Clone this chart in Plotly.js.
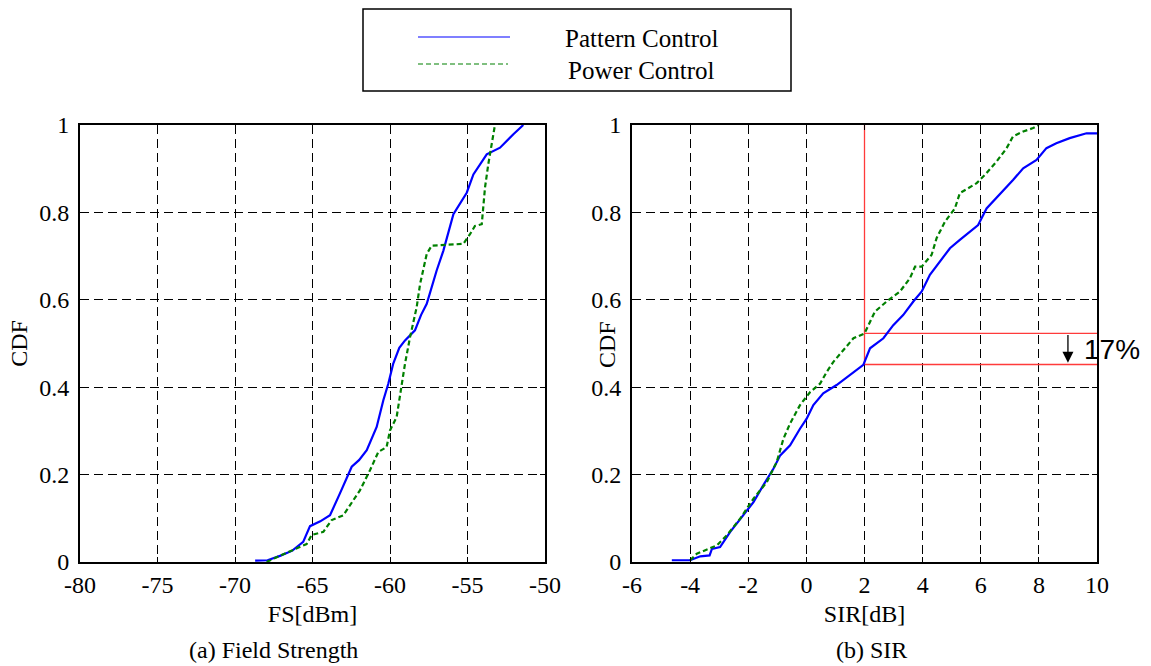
<!DOCTYPE html>
<html>
<head>
<meta charset="utf-8">
<script src="https://cdn.plot.ly/plotly-3.0.1.min.js"></script>
<style>html,body{margin:0;padding:0;background:#fff;}#chart{width:1151px;height:666px;}</style>
</head>
<body>
<div id="chart"></div>
<script>
// ---------- DATA ----------
const seriesNames = ["Pattern Control", "Power Control"];

// (a) Field Strength CDF
const fsPatternX = [-68.7, -67.9, -67.1, -66.3, -65.6, -65.16, -64.5, -63.87, -63.23, -62.47, -62.0, -61.5, -60.86, -60.43, -60.11, -59.79, -59.4, -59.03, -58.39, -58.0, -57.63, -56.99, -56.56, -55.91, -55.05, -54.62, -53.76, -52.9, -52.04, -51.4];
const fsPatternY = [0.003, 0.004, 0.014, 0.026, 0.046, 0.082, 0.093, 0.107, 0.157, 0.218, 0.233, 0.256, 0.309, 0.370, 0.408, 0.454, 0.490, 0.507, 0.530, 0.565, 0.591, 0.667, 0.712, 0.796, 0.845, 0.887, 0.933, 0.948, 0.979, 1.0];
const fsPowerX = [-67.96, -66.88, -65.38, -65.05, -64.3, -63.76, -63.01, -61.94, -61.29, -60.75, -60.22, -60.0, -59.57, -59.25, -59.03, -58.71, -58.28, -58.06, -57.63, -57.31, -55.27, -54.84, -54.52, -54.08, -53.87, -53.66, -53.44, -53.23];
const fsPowerY = [0.0, 0.018, 0.041, 0.062, 0.069, 0.096, 0.107, 0.164, 0.210, 0.252, 0.263, 0.301, 0.332, 0.408, 0.454, 0.514, 0.583, 0.636, 0.705, 0.724, 0.728, 0.750, 0.769, 0.773, 0.857, 0.910, 0.956, 1.0];

// (b) SIR CDF
const sirPatternX = [-4.63, -4.0, -3.65, -3.33, -3.25, -2.97, -2.62, -2.16, -1.82, -1.48, -1.13, -0.9, -0.56, -0.22, 0.01, 0.24, 0.58, 1.04, 1.5, 1.96, 2.19, 2.65, 2.99, 3.33, 3.68, 3.97, 4.25, 4.59, 4.94, 5.28, 5.63, 5.91, 6.2, 6.43, 6.71, 7.11, 7.46, 7.92, 8.26, 8.6, 9.06, 9.64, 10.0];
const sirPatternY = [0.004, 0.004, 0.013, 0.015, 0.030, 0.034, 0.069, 0.107, 0.137, 0.176, 0.214, 0.244, 0.267, 0.305, 0.328, 0.359, 0.386, 0.405, 0.428, 0.451, 0.489, 0.512, 0.542, 0.565, 0.596, 0.619, 0.657, 0.687, 0.718, 0.737, 0.756, 0.771, 0.809, 0.825, 0.844, 0.874, 0.901, 0.920, 0.947, 0.958, 0.970, 0.981, 0.981];
const sirPowerX = [-4.0, -3.77, -3.08, -2.74, -2.28, -1.82, -1.36, -1.02, -0.79, -0.56, -0.22, 0.13, 0.47, 0.7, 0.93, 1.22, 1.62, 2.0, 2.36, 2.76, 3.22, 3.56, 3.74, 3.97, 4.31, 4.48, 4.77, 5.11, 5.28, 5.86, 6.2, 6.54, 6.89, 7.11, 7.46, 7.8, 8.0];
const sirPowerY = [0.004, 0.019, 0.038, 0.061, 0.099, 0.145, 0.183, 0.229, 0.282, 0.317, 0.359, 0.389, 0.408, 0.435, 0.458, 0.481, 0.512, 0.523, 0.573, 0.596, 0.619, 0.649, 0.676, 0.676, 0.703, 0.741, 0.779, 0.809, 0.844, 0.867, 0.890, 0.916, 0.947, 0.974, 0.985, 0.993, 1.0];

// reference marks on (b): SIR = 2 dB, CDF levels of both curves, 17 % gap
const refSIR = 2;
const refLevels = [0.523, 0.452];
const refLabel = "17%";
const refArrowX = 9;

// ticks
const fsTickVals = [-80, -75, -70, -65, -60, -55, -50];
const fsTickText = ["-80", "-75", "-70", "-65", "-60", "-55", "-50"];
const sirTickVals = [-6, -4, -2, 0, 2, 4, 6, 8, 10];
const sirTickText = ["-6", "-4", "-2", "0", "2", "4", "6", "8", "10"];
const cdfTickVals = [0, 0.2, 0.4, 0.6, 0.8, 1];
const cdfTickText = ["0", "0.2", "0.4", "0.6", "0.8", "1"];

const fsTitle = "FS[dBm]";
const sirTitle = "SIR[dB]";
const cdfTitle = "CDF";
const captions = ["(a) Field Strength", "(b) SIR"];

// ---------- STYLE ----------
const W = 1151, H = 666;
const M = {l: 80, r: 54, t: 125, b: 104};
const PW = W - M.l - M.r, PH = H - M.t - M.b;
const px = x => (x - M.l) / PW;
const py = y => (H - M.b - y) / PH;
const SERIF = "Liberation Serif, Times New Roman, serif";
const SANS = "Liberation Sans, Arial, sans-serif";
const blue = "#0000ff", green = "#008000", red = "#ff3b3b";

const traces = [
  {x: fsPatternX, y: fsPatternY, xaxis: "x", yaxis: "y", mode: "lines", name: seriesNames[0],
   line: {color: blue, width: 2.2}, showlegend: false},
  {x: fsPowerX, y: fsPowerY, xaxis: "x", yaxis: "y", mode: "lines", name: seriesNames[1],
   line: {color: green, width: 2.2, dash: "5px,3px"}, showlegend: false},
  {x: [refSIR, refSIR], y: [refLevels[1], 1], xaxis: "x2", yaxis: "y2", mode: "lines",
   line: {color: red, width: 1.3}, showlegend: false, hoverinfo: "skip"},
  {x: [refSIR, 10], y: [refLevels[0], refLevels[0]], xaxis: "x2", yaxis: "y2", mode: "lines",
   line: {color: red, width: 1.3}, showlegend: false, hoverinfo: "skip"},
  {x: [refSIR, 10], y: [refLevels[1], refLevels[1]], xaxis: "x2", yaxis: "y2", mode: "lines",
   line: {color: red, width: 1.3}, showlegend: false, hoverinfo: "skip"},
  {x: sirPatternX, y: sirPatternY, xaxis: "x2", yaxis: "y2", mode: "lines", name: seriesNames[0],
   line: {color: blue, width: 2.2}, showlegend: false},
  {x: sirPowerX, y: sirPowerY, xaxis: "x2", yaxis: "y2", mode: "lines", name: seriesNames[1],
   line: {color: green, width: 2.2, dash: "5px,3px"}, showlegend: false}
];

const axBase = {
  showline: true, linecolor: "#000", linewidth: 2, mirror: "ticks",
  ticks: "inside", ticklen: 5, tickcolor: "#000", tickwidth: 1,
  showgrid: true, gridcolor: "#000", gridwidth: 1, griddash: "9px,5px",
  zeroline: false, tickfont: {family: SERIF, size: 24, color: "#000"},
  fixedrange: true
};

const layout = {
  width: W, height: H,
  margin: M,
  paper_bgcolor: "#fff", plot_bgcolor: "#fff",
  showlegend: false,
  xaxis: Object.assign({}, axBase, {domain: [0, px(545)], range: [-80, -50], anchor: "y",
    tickmode: "array", tickvals: fsTickVals, ticktext: fsTickText,
    title: {text: fsTitle, font: {family: SERIF, size: 24, color: "#000"}, standoff: 8}}),
  yaxis: Object.assign({}, axBase, {domain: [0, 1], range: [0, 1], anchor: "x",
    tickmode: "array", tickvals: cdfTickVals, ticktext: cdfTickText, ticklabelstandoff: 4,
    title: {text: cdfTitle, font: {family: SERIF, size: 24, color: "#000"}, standoff: 5}}),
  xaxis2: Object.assign({}, axBase, {domain: [px(632), 1], range: [-6, 10], anchor: "y2",
    tickmode: "array", tickvals: sirTickVals, ticktext: sirTickText,
    title: {text: sirTitle, font: {family: SERIF, size: 24, color: "#000"}, standoff: 8}}),
  yaxis2: Object.assign({}, axBase, {domain: [0, 1], range: [0, 1], anchor: "x2",
    tickmode: "array", tickvals: cdfTickVals, ticktext: cdfTickText, ticklabelstandoff: 4}),
  shapes: [
    {type: "rect", xref: "paper", yref: "paper", x0: px(363), x1: px(791), y0: py(91), y1: py(9),
     line: {color: "#000", width: 1.5}, fillcolor: "rgba(0,0,0,0)"},
    {type: "line", xref: "paper", yref: "paper", x0: px(418), x1: px(510), y0: py(37), y1: py(37),
     line: {color: blue, width: 1.2}},
    {type: "line", xref: "paper", yref: "paper", x0: px(418), x1: px(508), y0: py(64), y1: py(64),
     line: {color: green, width: 1.2, dash: "5px,3px"}}
  ],
  annotations: [
    {xref: "paper", yref: "paper", x: px(642), y: py(38), text: seriesNames[0], showarrow: false,
     xanchor: "center", yanchor: "middle", font: {family: SERIF, size: 25, color: "#000"}},
    {xref: "paper", yref: "paper", x: px(641), y: py(70), text: seriesNames[1], showarrow: false,
     xanchor: "center", yanchor: "middle", font: {family: SERIF, size: 25, color: "#000"}},
    {xref: "paper", yref: "paper", x: px(273), y: py(650), text: captions[0], showarrow: false,
     xanchor: "center", yanchor: "middle", font: {family: SERIF, size: 24, color: "#000"}},
    {xref: "paper", yref: "paper", x: px(871), y: py(650), text: captions[1], showarrow: false,
     xanchor: "center", yanchor: "middle", font: {family: SERIF, size: 24, color: "#000"}},
    {xref: "paper", yref: "paper", x: px(607), y: py(345), text: cdfTitle, showarrow: false, textangle: -90,
     xanchor: "center", yanchor: "middle", font: {family: SERIF, size: 24, color: "#000"}},
    {xref: "x2", yref: "y2", x: refArrowX, y: refLevels[1] + 0.004, ax: refArrowX, ay: refLevels[0],
     axref: "x2", ayref: "y2", text: "", showarrow: true, arrowhead: 2, arrowsize: 1.7,
     arrowwidth: 1.3, arrowcolor: "#000", standoff: 0, startstandoff: 0},
    {xref: "paper", yref: "paper", x: px(1112), y: py(349), text: refLabel, showarrow: false,
     xanchor: "center", yanchor: "middle", font: {family: SANS, size: 28, color: "#000"}}
  ]
};

Plotly.newPlot("chart", traces, layout, {staticPlot: true, displayModeBar: false});
</script>
</body>
</html>
